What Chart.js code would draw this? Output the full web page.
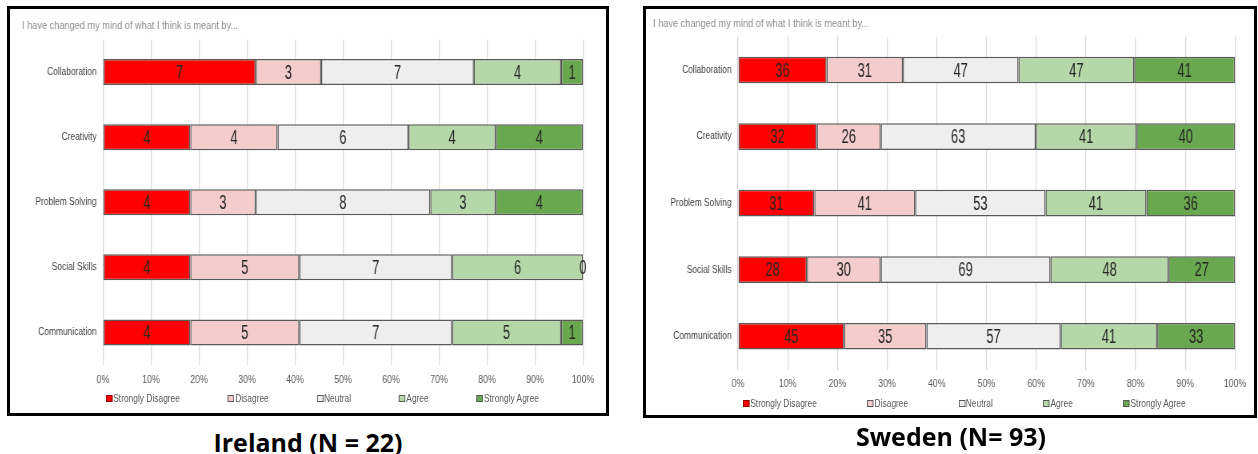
<!DOCTYPE html>
<html>
<head>
<meta charset="utf-8">
<script src="https://cdn.jsdelivr.net/npm/chart.js@4.4.1/dist/chart.umd.min.js"></script>
<style>
  body { margin: 0; background: #fff; width: 1258px; height: 454px; position: relative; overflow: hidden; }
  .panel { position: absolute; box-sizing: border-box; border: 3px solid #000; background: #fff; }
  /* charts are drawn wide and squeezed horizontally to get the narrow type of the original report */
  .panel canvas { position: absolute; left: 0; top: 0; transform: scaleX(0.8); transform-origin: 0 0; }
  .legend { position: absolute; display: flex; align-items: center; white-space: nowrap;
            transform: scaleX(0.8); transform-origin: 0 50%;
            font: 10.5px 'Liberation Sans', Arial, sans-serif; color: #595959; line-height: 12px; }
  .legend .item { display: flex; align-items: center; }
  .legend .sw { box-sizing: border-box; width: 8px; height: 7px; border: 1px solid #595959; margin-right: 1px; }
  .caption { position: absolute; width: 400px; text-align: center; line-height: 30px;
             font: bold 25px 'Open Sans', 'Liberation Sans', sans-serif; color: #000; }
</style>
</head>
<body>
<div class="panel" style="left:7px; top:6px; width:602px; height:410px;">
  <canvas id="ie-chart" width="745" height="386"></canvas>
  <div class="legend" id="ie-legend" style="left:96px; top:383px; gap:60px;"></div>
</div>
<div class="caption" style="left:108px; top:425px;">Ireland (N = 22)</div>

<div class="panel" style="left:643px; top:6px; width:614px; height:412px;">
  <canvas id="se-chart" width="760" height="390"></canvas>
  <div class="legend" id="se-legend" style="left:97px; top:388px; gap:63px;"></div>
</div>
<div class="caption" style="left:751px; top:419px;">Sweden (N= 93)</div>

<script>
// Survey items (rows, top to bottom)
const categories = ['Collaboration', 'Creativity', 'Problem Solving', 'Social Skills', 'Communication'];
const responseLabels = ['Strongly Disagree', 'Disagree', 'Neutral', 'Agree', 'Strongly Agree'];
const responseColors = ['#ff0000', '#f4cccc', '#eeeeee', '#b6d7a8', '#6aa84f'];
const xTickValues = [0, 10, 20, 30, 40, 50, 60, 70, 80, 90, 100];
const subtitle = 'I have changed my mind of what I think is meant by...';

// Ireland response counts (N = 22)
const ieStronglyDisagree = [7, 4, 4, 4, 4];
const ieDisagree         = [3, 4, 3, 5, 5];
const ieNeutral          = [7, 6, 8, 7, 7];
const ieAgree            = [4, 4, 3, 6, 5];
const ieStronglyAgree    = [1, 4, 4, 0, 1];

// Sweden response counts (N = 93)
const seStronglyDisagree = [36, 32, 31, 28, 45];
const seDisagree         = [31, 26, 41, 30, 35];
const seNeutral          = [47, 63, 53, 69, 57];
const seAgree            = [47, 41, 41, 48, 41];
const seStronglyAgree    = [41, 40, 36, 27, 33];

const FONT = "'Liberation Sans', Arial, sans-serif";
const SQUEEZE = 0.8; // horizontal scale applied to each canvas in CSS

// Writes each segment's count in the middle of its bar
const valueLabels = {
  id: 'valueLabels',
  afterDatasetsDraw(chart, args, opts) {
    const ctx = chart.ctx;
    ctx.save();
    ctx.font = opts.font;
    ctx.fillStyle = opts.color;
    ctx.textAlign = 'center';
    ctx.textBaseline = 'middle';
    chart.data.datasets.forEach((ds, i) => {
      chart.getDatasetMeta(i).data.forEach((bar, j) => {
        const p = bar.getCenterPoint();
        ctx.save();
        ctx.translate(p.x, p.y);
        ctx.scale(opts.squeeze, 1);
        ctx.fillText(String(ds.counts[j]), 0, 1);
        ctx.restore();
      });
    });
    ctx.restore();
  }
};

function buildLegend(el) {
  responseLabels.forEach((label, i) => {
    const item = document.createElement('div');
    item.className = 'item';
    const sw = document.createElement('span');
    sw.className = 'sw';
    sw.style.background = responseColors[i];
    if (i === 0) sw.style.borderColor = '#8b0000';
    item.appendChild(sw);
    item.appendChild(document.createTextNode(label));
    el.appendChild(item);
  });
}

// layout values are in on-screen pixels; they are widened to canvas units here
function makeChart(canvasId, series, layout) {
  const totals = categories.map((_, j) => series.reduce((s, arr) => s + arr[j], 0));
  const datasets = series.map((counts, i) => ({
    label: responseLabels[i],
    counts: counts,
    data: counts.map((v, j) => v / totals[j] * 100),
    backgroundColor: responseColors[i],
    borderColor: '#595959',
    borderWidth: 1.5,
    borderSkipped: false,
    categoryPercentage: 0.8,
    barPercentage: 0.5
  }));

  return new Chart(document.getElementById(canvasId), {
    type: 'bar',
    data: { labels: categories, datasets: datasets },
    plugins: [valueLabels],
    options: {
      indexAxis: 'y',
      responsive: false,
      animation: false,
      devicePixelRatio: 1,
      layout: { padding: { left: layout.padLeft / SQUEEZE, right: layout.padRight / SQUEEZE, top: 0, bottom: 0 } },
      scales: {
        x: {
          stacked: true,
          min: 0,
          max: 100,
          afterBuildTicks: (scale) => { scale.ticks = xTickValues.map(v => ({ value: v })); },
          grid: { color: '#d9d9d9', lineWidth: 1.25, drawTicks: false },
          border: { display: false },
          ticks: {
            padding: layout.tickPad,
            color: '#595959',
            font: { family: FONT, size: 11 },
            callback: (v) => v + '%',
            maxRotation: 0,
            autoSkip: false
          }
        },
        y: {
          stacked: true,
          grid: { display: false, drawTicks: false },
          border: { display: false },
          afterFit: (scale) => { scale.width = layout.yWidth / SQUEEZE; },
          ticks: {
            padding: 8,
            color: '#404040',
            font: { family: FONT, size: 10.5 }
          }
        }
      },
      plugins: {
        legend: { display: false },
        tooltip: { enabled: false },
        title: {
          display: true,
          text: subtitle,
          align: 'start',
          color: '#8c8c8c',
          font: { family: FONT, size: 11.5, weight: 'normal' },
          padding: { top: layout.titleTop, bottom: layout.titleBottom }
        },
        valueLabels: { font: '20px ' + FONT, color: '#262626', squeeze: 0.8 }
      }
    }
  });
}

makeChart('ie-chart',
  [ieStronglyDisagree, ieDisagree, ieNeutral, ieAgree, ieStronglyAgree],
  { padLeft: 12, padRight: 23, yWidth: 81, titleTop: 10, titleBottom: 6.7, tickPad: 8.4 });
buildLegend(document.getElementById('ie-legend'));

makeChart('se-chart',
  [seStronglyDisagree, seDisagree, seNeutral, seAgree, seStronglyAgree],
  { padLeft: 7, padRight: 19, yWidth: 85, titleTop: 8.4, titleBottom: 5.55, tickPad: 8.15 });
buildLegend(document.getElementById('se-legend'));
</script>
</body>
</html>
